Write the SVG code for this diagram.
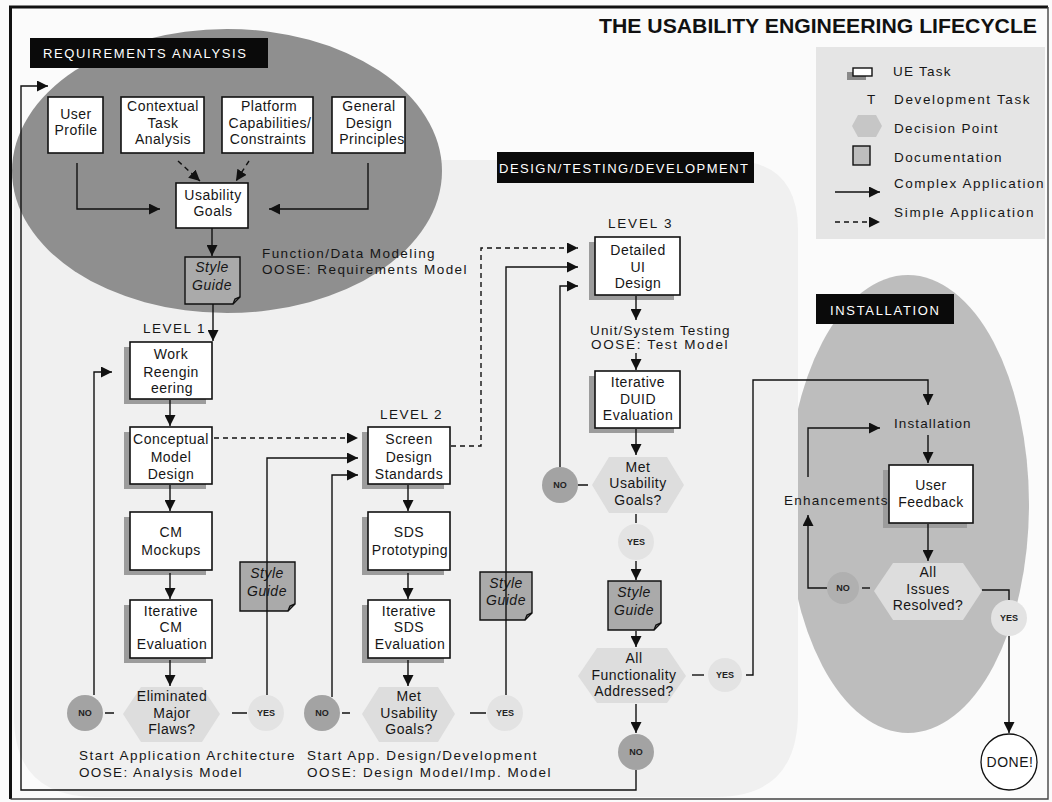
<svg xmlns="http://www.w3.org/2000/svg" width="1052" height="802" viewBox="0 0 1052 802">
  <style>
    .t{font-family:"Liberation Sans",Arial,sans-serif;font-size:14px;fill:#161616;text-anchor:middle;letter-spacing:0.5px}
    .s{font-family:"Liberation Sans",Arial,sans-serif;font-size:13.5px;fill:#161616;letter-spacing:0.4px}
    .w{font-family:"Liberation Sans",Arial,sans-serif;font-size:13px;fill:#fff}
    .yn{font-family:"Liberation Sans",Arial,sans-serif;font-size:9px;font-weight:bold;fill:#222;text-anchor:middle}
    .it{font-style:italic}
    .box{fill:#fff;stroke:#111;stroke-width:1.6}
    .shd{fill:#9c9c9c}
    .hex{fill:#dddddd}
    .no{fill:#a3a3a3}
    .yes{fill:#e3e3e3}
    .doc{fill:#aaaaaa;stroke:#111;stroke-width:1.4}
    .ln{fill:none;stroke:#111;stroke-width:1.4}
    .dsh{stroke-dasharray:5 4}
    .hdr{fill:#0a0a0a}
  </style>
  <defs>
    <marker id="ah" viewBox="0 0 10 10" refX="10" refY="5" markerWidth="11" markerHeight="11" markerUnits="userSpaceOnUse" orient="auto">
      <path d="M0,0 L10,5 L0,10 Z" fill="#111"/>
    </marker>
  </defs>

  <!-- page and regions -->
  <rect x="0" y="0" width="1052" height="802" fill="#fbfbfb"/>
  <ellipse id="installation-region" cx="908" cy="504" rx="121" ry="229" fill="#bdbdbd"/>
  <path id="design-region" d="M14 160 H728 Q798 160 798 230 V712 Q798 797 716 797 H96 Q14 797 14 716 Z" fill="#f0f0f0"/>
  <ellipse id="requirements-region" cx="227" cy="171" rx="215" ry="142" fill="#8f8f8f"/>

  <!-- page frame: heavy top and left, light bottom and right -->
  <g id="frame" fill="none">
    <path d="M1048 7 H10.5 V799" stroke="#111" stroke-width="3"/>
    <path d="M10.5 799 H1048 V7" stroke="#444" stroke-width="1.4"/>
  </g>

  <!-- title -->
  <text x="599" y="33" font-family="Liberation Sans,Arial,sans-serif" font-size="21" font-weight="bold" fill="#111" textLength="438" lengthAdjust="spacingAndGlyphs">THE USABILITY ENGINEERING LIFECYCLE</text>

  <!-- legend -->
  <g id="legend">
    <rect x="816" y="47" width="229" height="192" fill="#e5e5e5"/>
    <rect x="847" y="72" width="19" height="8" fill="#8a8a8a"/>
    <rect x="853" y="68" width="19" height="8" fill="#fff" stroke="#111" stroke-width="1.4"/>
    <text class="s" x="893" y="76" textLength="58">UE Task</text>
    <text class="s" x="867" y="104">T</text>
    <text class="s" x="894" y="104" textLength="136">Development Task</text>
    <polygon points="852,126 858,115 876,115 882,126 876,137 858,137" fill="#c6c6c6"/>
    <text class="s" x="894" y="133" textLength="104">Decision Point</text>
    <rect x="853" y="146" width="17" height="19" fill="#bdbdbd" stroke="#111" stroke-width="1.4"/>
    <text class="s" x="894" y="162" textLength="108">Documentation</text>
    <line class="ln" x1="835" y1="192" x2="880" y2="192" marker-end="url(#ah)"/>
    <text class="s" x="894" y="188" textLength="150">Complex Application</text>
    <line class="ln dsh" x1="835" y1="222" x2="880" y2="222" marker-end="url(#ah)"/>
    <text class="s" x="894" y="217" textLength="140">Simple Application</text>
  </g>

  <!-- section headers -->
  <g id="hdr-requirements">
    <rect class="hdr" x="30" y="38" width="238" height="30"/>
    <text class="w" x="43" y="58" textLength="203">REQUIREMENTS ANALYSIS</text>
  </g>
  <g id="hdr-design">
    <rect class="hdr" x="497" y="152" width="257" height="31"/>
    <text class="w" x="499" y="173" textLength="249">DESIGN/TESTING/DEVELOPMENT</text>
  </g>
  <g id="hdr-installation">
    <rect class="hdr" x="816" y="294" width="138" height="30"/>
    <text class="w" x="830" y="315" textLength="109">INSTALLATION</text>
  </g>

  <!-- requirements analysis -->
  <g id="user-profile">
    <rect class="box" x="48" y="97" width="55" height="56"/>
    <text class="t" x="76" y="119">User</text>
    <text class="t" x="76" y="135">Profile</text>
  </g>
  <g id="contextual-task-analysis">
    <rect class="box" x="121" y="97" width="83" height="56"/>
    <text class="t" x="163" y="111">Contextual</text>
    <text class="t" x="163" y="128">Task</text>
    <text class="t" x="163" y="144">Analysis</text>
  </g>
  <g id="platform-capabilities">
    <rect class="box" x="222" y="97" width="91" height="56"/>
    <text class="t" x="269" y="111">Platform</text>
    <text class="t" x="270" y="128">Capabilities/</text>
    <text class="t" x="268" y="144">Constraints</text>
  </g>
  <g id="general-design-principles">
    <rect class="box" x="332" y="97" width="73" height="56"/>
    <text class="t" x="369" y="111">General</text>
    <text class="t" x="369" y="128">Design</text>
    <text class="t" x="372" y="144">Principles</text>
  </g>
  <g id="usability-goals">
    <rect class="box" x="176" y="183" width="72" height="45"/>
    <text class="t" x="213" y="200">Usability</text>
    <text class="t" x="213" y="216">Goals</text>
  </g>
  <g id="style-guide-req">
    <path class="doc" d="M185 257 H240 V297 L233 304 H185 Z"/>
    <path class="ln" d="M233 304 L235 299 L240 297"/>
    <text class="t it" x="212" y="272">Style</text>
    <text class="t it" x="212" y="290">Guide</text>
  </g>
  <g id="modeling-note">
    <text class="s" x="262" y="258" textLength="173">Function/Data Modeling</text>
    <text class="s" x="262" y="274" textLength="205">OOSE: Requirements Model</text>
  </g>

  <!-- level 1 -->
  <g id="level1">
    <text class="s" x="143" y="333" font-size="15" textLength="62">LEVEL 1</text>
  </g>
  <g id="work-reengineering">
    <rect class="shd" x="124" y="347" width="82" height="57"/>
    <rect class="box" x="130" y="342" width="82" height="57"/>
    <text class="t" x="171" y="359">Work</text>
    <text class="t" x="171" y="377">Reengin</text>
    <text class="t" x="172" y="393">eering</text>
  </g>
  <g id="conceptual-model-design">
    <rect class="shd" x="124" y="432" width="82" height="57"/>
    <rect class="box" x="130" y="427" width="82" height="57"/>
    <text class="t" x="171" y="444">Conceptual</text>
    <text class="t" x="171" y="462">Model</text>
    <text class="t" x="171" y="479">Design</text>
  </g>
  <g id="cm-mockups">
    <rect class="shd" x="124" y="517" width="82" height="58"/>
    <rect class="box" x="130" y="512" width="82" height="58"/>
    <text class="t" x="171" y="537">CM</text>
    <text class="t" x="171" y="555">Mockups</text>
  </g>
  <g id="iterative-cm-evaluation">
    <rect class="shd" x="124" y="605" width="82" height="58"/>
    <rect class="box" x="130" y="600" width="82" height="58"/>
    <text class="t" x="171" y="616">Iterative</text>
    <text class="t" x="171" y="632">CM</text>
    <text class="t" x="172" y="649">Evaluation</text>
  </g>
  <g id="eliminated-major-flaws">
    <polygon class="hex" points="123,714 141,687 202,687 220,714 202,742 141,742"/>
    <text class="t" x="172" y="701">Eliminated</text>
    <text class="t" x="172" y="718">Major</text>
    <text class="t" x="172" y="734">Flaws?</text>
  </g>
  <g id="no-1">
    <circle class="no" cx="85" cy="713" r="18"/>
    <text class="yn" x="85" y="716">NO</text>
  </g>
  <g id="yes-1">
    <circle class="yes" cx="266" cy="713" r="18"/>
    <text class="yn" x="266" y="716">YES</text>
  </g>
  <g id="style-guide-1">
    <path class="doc" d="M240 562 H295 V604 L288 611 H240 Z"/>
    <path class="ln" d="M288 611 L290 606 L295 604"/>
    <text class="t it" x="267" y="578">Style</text>
    <text class="t it" x="267" y="596">Guide</text>
  </g>
  <g id="note-1">
    <text class="s" x="79" y="760" textLength="216">Start Application Architecture</text>
    <text class="s" x="79" y="777" textLength="163">OOSE: Analysis Model</text>
  </g>

  <!-- level 2 -->
  <g id="level2">
    <text class="s" x="380" y="419" font-size="15" textLength="62">LEVEL 2</text>
  </g>
  <g id="screen-design-standards">
    <rect class="shd" x="362" y="432" width="82" height="57"/>
    <rect class="box" x="368" y="427" width="82" height="57"/>
    <text class="t" x="409" y="444">Screen</text>
    <text class="t" x="409" y="462">Design</text>
    <text class="t" x="409" y="479">Standards</text>
  </g>
  <g id="sds-prototyping">
    <rect class="shd" x="362" y="517" width="82" height="58"/>
    <rect class="box" x="368" y="512" width="82" height="58"/>
    <text class="t" x="409" y="537">SDS</text>
    <text class="t" x="410" y="555">Prototyping</text>
  </g>
  <g id="iterative-sds-evaluation">
    <rect class="shd" x="362" y="605" width="82" height="58"/>
    <rect class="box" x="368" y="600" width="82" height="58"/>
    <text class="t" x="409" y="616">Iterative</text>
    <text class="t" x="409" y="632">SDS</text>
    <text class="t" x="410" y="649">Evaluation</text>
  </g>
  <g id="met-usability-goals-2">
    <polygon class="hex" points="362,714 379,687 438,687 455,714 438,742 379,742"/>
    <text class="t" x="409" y="701">Met</text>
    <text class="t" x="409" y="718">Usability</text>
    <text class="t" x="409" y="734">Goals?</text>
  </g>
  <g id="no-2">
    <circle class="no" cx="322" cy="713" r="18"/>
    <text class="yn" x="322" y="716">NO</text>
  </g>
  <g id="yes-2">
    <circle class="yes" cx="505" cy="713" r="18"/>
    <text class="yn" x="505" y="716">YES</text>
  </g>
  <g id="style-guide-2">
    <path class="doc" d="M480 572 H532 V613 L525 620 H480 Z"/>
    <path class="ln" d="M525 620 L527 615 L532 613"/>
    <text class="t it" x="506" y="588">Style</text>
    <text class="t it" x="506" y="605">Guide</text>
  </g>
  <g id="note-2">
    <text class="s" x="307" y="760" textLength="230">Start App. Design/Development</text>
    <text class="s" x="307" y="777" textLength="244">OOSE: Design Model/Imp. Model</text>
  </g>

  <!-- level 3 -->
  <g id="level3">
    <text class="s" x="608" y="228" font-size="15" textLength="64">LEVEL 3</text>
  </g>
  <g id="detailed-ui-design">
    <rect class="shd" x="589" y="242" width="85" height="58"/>
    <rect class="box" x="595" y="237" width="85" height="58"/>
    <text class="t" x="638" y="255">Detailed</text>
    <text class="t" x="638" y="272">UI</text>
    <text class="t" x="638" y="288">Design</text>
  </g>
  <g id="testing-note">
    <text class="s" x="590" y="335" textLength="140">Unit/System Testing</text>
    <text class="s" x="591" y="349" textLength="137">OOSE: Test Model</text>
  </g>
  <g id="iterative-duid-evaluation">
    <rect class="shd" x="589" y="376" width="85" height="57"/>
    <rect class="box" x="595" y="371" width="85" height="57"/>
    <text class="t" x="638" y="387">Iterative</text>
    <text class="t" x="638" y="404">DUID</text>
    <text class="t" x="638" y="420">Evaluation</text>
  </g>
  <g id="met-usability-goals-3">
    <polygon class="hex" points="592,485 609,457 667,457 684,485 667,513 609,513"/>
    <text class="t" x="638" y="472">Met</text>
    <text class="t" x="638" y="488">Usability</text>
    <text class="t" x="638" y="505">Goals?</text>
  </g>
  <g id="no-3">
    <circle class="no" cx="560" cy="485" r="18"/>
    <text class="yn" x="560" y="488">NO</text>
  </g>
  <g id="yes-3">
    <circle class="yes" cx="636" cy="542" r="18"/>
    <text class="yn" x="636" y="545">YES</text>
  </g>
  <g id="style-guide-3">
    <path class="doc" d="M608 581 H661 V623 L654 630 H608 Z"/>
    <path class="ln" d="M654 630 L656 625 L661 623"/>
    <text class="t it" x="634" y="597">Style</text>
    <text class="t it" x="634" y="615">Guide</text>
  </g>
  <g id="all-functionality-addressed">
    <polygon class="hex" points="578,676 597,648 667,648 686,676 667,703 597,703"/>
    <text class="t" x="634" y="663">All</text>
    <text class="t" x="634" y="680">Functionality</text>
    <text class="t" x="634" y="696">Addressed?</text>
  </g>
  <g id="yes-4">
    <circle class="yes" cx="725" cy="675" r="17"/>
    <text class="yn" x="725" y="678">YES</text>
  </g>
  <g id="no-4">
    <circle class="no" cx="636" cy="752" r="18"/>
    <text class="yn" x="636" y="755">NO</text>
  </g>

  <!-- installation -->
  <g id="installation">
    <text class="s" x="894" y="428" textLength="77">Installation</text>
  </g>
  <g id="user-feedback">
    <rect class="shd" x="883" y="470" width="84" height="58"/>
    <rect class="box" x="889" y="465" width="84" height="58"/>
    <text class="t" x="931" y="490">User</text>
    <text class="t" x="931" y="507">Feedback</text>
  </g>
  <g id="enhancements">
    <text class="s" x="784" y="505" textLength="104">Enhancements</text>
  </g>
  <g id="all-issues-resolved">
    <polygon class="hex" points="874,591 893,563 963,563 982,591 963,620 893,620" fill="#e4e4e4"/>
    <text class="t" x="928" y="577">All</text>
    <text class="t" x="928" y="594">Issues</text>
    <text class="t" x="928" y="610">Resolved?</text>
  </g>
  <g id="no-5">
    <circle cx="843" cy="588" r="16" fill="#b0b0b0"/>
    <text class="yn" x="843" y="591">NO</text>
  </g>
  <g id="yes-5">
    <circle class="yes" cx="1009" cy="618" r="18"/>
    <text class="yn" x="1009" y="621">YES</text>
  </g>
  <g id="done">
    <circle cx="1009" cy="762" r="28" fill="#fff" stroke="#111" stroke-width="1.3"/>
    <text class="t" x="1010" y="767" letter-spacing="0.2">DONE!</text>
  </g>

  <!-- connectors -->
  <g id="connectors">
    <path class="ln" d="M636 770 V790 H21 V86 H48" marker-end="url(#ah)"/>
    <path class="ln" d="M77 163 V209 H160" marker-end="url(#ah)"/>
    <path class="ln" d="M368 163 V209 H269" marker-end="url(#ah)"/>
    <path class="ln dsh" d="M178 161 L200 181" marker-end="url(#ah)"/>
    <path class="ln dsh" d="M249 161 L236 181" marker-end="url(#ah)"/>
    <path class="ln" d="M212 228 V256" marker-end="url(#ah)"/>
    <path class="ln" d="M213 304 V341" marker-end="url(#ah)"/>
    <path class="ln" d="M170 400 V426" marker-end="url(#ah)"/>
    <path class="ln" d="M170 485 V511" marker-end="url(#ah)"/>
    <path class="ln" d="M170 573 V599" marker-end="url(#ah)"/>
    <path class="ln" d="M170 660 V686" marker-end="url(#ah)"/>
    <path class="ln" d="M94 695 V372 H112" marker-end="url(#ah)"/>
    <path class="ln" d="M105 713 H114 M232 713 H247"/>
    <path class="ln" d="M267 695 V458 H358" marker-end="url(#ah)"/>
    <path class="ln dsh" d="M214 438 H358" marker-end="url(#ah)"/>
    <path class="ln" d="M332 697 V475 H358" marker-end="url(#ah)"/>
    <path class="ln" d="M408 485 V511" marker-end="url(#ah)"/>
    <path class="ln" d="M408 573 V599" marker-end="url(#ah)"/>
    <path class="ln" d="M408 660 V686" marker-end="url(#ah)"/>
    <path class="ln" d="M342 713 H350 M470 713 H486"/>
    <path class="ln" d="M506 695 V267 H578" marker-end="url(#ah)"/>
    <path class="ln dsh" d="M451 446 H481 V248 H578" marker-end="url(#ah)"/>
    <path class="ln" d="M560 467 V286 H578" marker-end="url(#ah)"/>
    <path class="ln" d="M636 296 V320" marker-end="url(#ah)"/>
    <path class="ln" d="M636 353 V370" marker-end="url(#ah)"/>
    <path class="ln" d="M636 429 V455" marker-end="url(#ah)"/>
    <path class="ln" d="M578 485 H588 M636 514 V523"/>
    <path class="ln" d="M636 561 V580" marker-end="url(#ah)"/>
    <path class="ln" d="M636 631 V647" marker-end="url(#ah)"/>
    <path class="ln" d="M636 704 V733" marker-end="url(#ah)"/>
    <path class="ln" d="M692 675 H704"/>
    <path class="ln" d="M746 675 H753 V380 H928 V405" marker-end="url(#ah)"/>
    <path class="ln" d="M928 435 V463" marker-end="url(#ah)"/>
    <path class="ln" d="M808 477 V428 H880" marker-end="url(#ah)"/>
    <path class="ln" d="M928 524 V561" marker-end="url(#ah)"/>
    <path class="ln" d="M862 588 H870"/>
    <path class="ln" d="M827 588 H808 V515" marker-end="url(#ah)"/>
    <path class="ln" d="M982 590 H1009 V600"/>
    <path class="ln" d="M1009 636 V733" marker-end="url(#ah)"/>
  </g>
</svg>
